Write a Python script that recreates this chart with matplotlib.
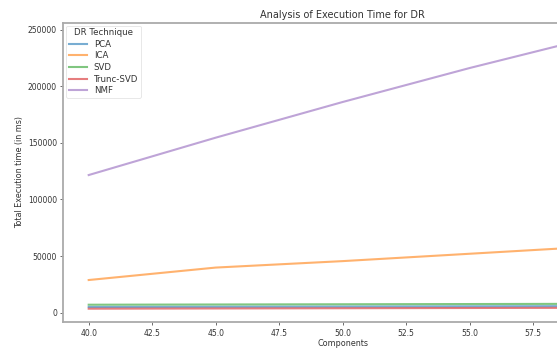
"""Execution time of the DR techniques over the number of components."""

import matplotlib
matplotlib.use("Agg")
from matplotlib import pyplot as plt

components = [40, 45, 50, 55, 60]
pca = [5000, 5200, 5400, 5600, 5800]
ica = [28800, 39800, 45500, 52000, 58500]
svd = [7000, 7200, 7400, 7600, 7800]
trunc_svd = [3500, 3700, 3900, 4100, 4300]
nmf = [121500, 154500, 186000, 216000, 244000]
x_ticks = [40.0, 42.5, 45.0, 47.5, 50.0, 52.5, 55.0, 57.5]

series = {"PCA": pca, "ICA": ica, "SVD": svd, "Trunc-SVD": trunc_svd, "NMF": nmf}
colors = {"PCA": "#1f77b4", "ICA": "#ff7f0e", "SVD": "#2ca02c", "Trunc-SVD": "#d62728", "NMF": "#9467bd"}

plt.rcParams["font.family"] = "DejaVu Sans"
plt.rcParams["font.size"] = 5.5
plt.rcParams["text.color"] = "#333333"
plt.rcParams["axes.labelcolor"] = "#333333"
plt.rcParams["xtick.color"] = "#555555"
plt.rcParams["ytick.color"] = "#555555"
plt.rcParams["xtick.labelcolor"] = "#333333"
plt.rcParams["ytick.labelcolor"] = "#333333"

fig = plt.figure(figsize=(5.57, 3.48), dpi=100)
# the reference is a cropped screenshot: the axes run past the right edge
ax = fig.add_axes([63.3 / 557, 1 - 322.3 / 348, (622 - 63.3) / 557, (322.3 - 22.7) / 348])

for name, values in series.items():
    ax.plot(components, values, color=colors[name], alpha=0.6, linewidth=1.5, label=name)

ax.set_xlim(39, 61)
ax.set_xticks(x_ticks)  # 60.0 sits outside the cropped picture
ax.set_title("Analysis of Execution Time for DR", fontsize=7.0, pad=3.5)
ax.set_xlabel("Components", fontsize=5.8, labelpad=1.0)
ax.set_ylabel("Total Execution time (in ms)", fontsize=5.8, labelpad=3)
ax.tick_params(length=2.5, width=0.6, pad=2)
for spine in ax.spines.values():
    spine.set_color("#aaaaaa")
    spine.set_linewidth(1.3)

leg = ax.legend(title="DR Technique", loc="upper left", fontsize=6.2, title_fontsize=6.2,
                borderaxespad=0.35, borderpad=0.3, handlelength=2.1, handletextpad=0.8,
                labelspacing=0.3, frameon=True)
leg.get_frame().set_edgecolor("#dddddd")
leg.get_frame().set_linewidth(0.6)

fig.savefig("out.png", dpi=100)
